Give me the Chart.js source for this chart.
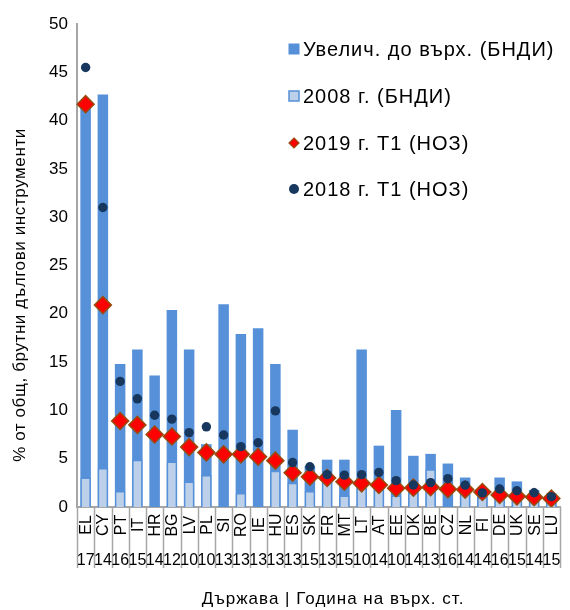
<!DOCTYPE html>
<html>
<head>
<meta charset="utf-8">
<script src="https://cdn.jsdelivr.net/npm/chart.js@4.4.1/dist/chart.umd.min.js"></script>
<style>
  html, body { margin: 0; padding: 0; background: #ffffff; }
  #wrap { width: 570px; height: 610px; position: relative; }
</style>
</head>
<body>
<div id="wrap"><canvas id="debtChart"></canvas></div>
<script>
//#region data
// country codes on the x axis
const countries = ["EL", "CY", "PT", "IT", "HR", "BG", "LV", "PL", "SI", "RO", "IE", "HU", "ES", "SK",
  "FR", "MT", "LT", "AT", "EE", "DK", "BE", "CZ", "NL", "FI", "DE", "UK", "SE", "LU"];

// year of the peak (second row of labels)
const peakYears = ["17", "14", "16", "15", "14", "12", "10", "10", "13", "13", "13", "13", "13", "15",
  "13", "15", "10", "14", "10", "14", "13", "16", "14", "14", "16", "15", "14", "15"];

// bar height up to the peak (NPL)
const peakLevel = [41.8, 42.7, 14.8, 16.3, 13.6, 20.4, 16.3, 6.5, 21.0, 17.9, 18.5, 14.8, 8.0, 4.25,
  4.9, 4.9, 16.3, 6.35, 10.05, 5.3, 5.5, 4.5, 3.05, 1.5, 3.05, 2.65, 1.75, 1.4];

// level in 2008 (NPL), null where there is none
const level2008 = [3.05, 4.05, 1.65, 4.9, null, 4.7, 2.65, 3.3, null, 1.45, null, 3.75, 2.5, 1.65,
  3.3, 1.2, 2.0, 1.8, 1.2, 1.5, 3.9, null, 1.6, 1.0, 1.0, 1.2, 1.0, 0.9];

// 2019 Q1 (NPL)
const q1_2019 = [41.7, 20.9, 8.9, 8.5, 7.5, 7.3, 6.2, 5.65, 5.45, 5.45, 5.2, 4.8, 3.55, 3.14,
  3.0, 2.62, 2.45, 2.28, 1.95, 2.0, 2.05, 1.85, 1.8, 1.55, 1.24, 1.1, 1.02, 0.88];

// 2018 Q1 (NPL)
const q1_2018 = [45.5, 31.0, 13.0, 11.2, 9.5, 9.1, 7.7, 8.3, 7.45, 6.25, 6.65, 9.95, 4.6, 4.17,
  3.35, 3.3, 3.35, 3.57, 2.73, 2.28, 2.52, 2.93, 2.26, 1.46, 1.86, 1.68, 1.48, 1.07];

// y axis ticks
const yTicks = [0, 5, 10, 15, 20, 25, 30, 35, 40, 45, 50];

const seriesNames = ["Увелич. до върх. (БНДИ)", "2008 г. (БНДИ)", "2019 г. Т1 (НОЗ)", "2018 г. Т1 (НОЗ)"];
const yTitle = "% от общ, брутни дългови инструменти";
const xTitle = "Държава | Година на върх. ст.";
//#endregion

//#region colours
const darkBlue = "#5590d8";
const lightBlue = "#bdd0ea";
const diamondRed = "#ff0000";
const diamondEdge = "#9a4a0c";
const navy = "#17375e";
const axisGrey = "#a6a6a6";
const FONT = "'Liberation Sans', Arial, sans-serif";
//#endregion

// draws the legend, the axis titles, the separators and the two-row x labels
const extrasPlugin = {
  id: "extras",
  afterDraw(chart) {
    const ctx = chart.ctx;
    const xs = chart.scales.x;
    const area = chart.chartArea;
    const step = (area.right - area.left) / countries.length;

    ctx.save();

    // vertical separators under the axis
    ctx.strokeStyle = axisGrey;
    ctx.lineWidth = 1.5;
    for (let i = 0; i <= countries.length; i++) {
      const x = Math.round(area.left + i * step) + 0.5;
      ctx.beginPath();
      ctx.moveTo(x, area.bottom);
      ctx.lineTo(x, area.bottom + 61);
      ctx.stroke();
    }

    // country codes (rotated) and years
    ctx.fillStyle = "#000";
    ctx.font = "16px " + FONT;
    ctx.textBaseline = "middle";
    countries.forEach((c, i) => {
      const x = xs.getPixelForValue(i);
      ctx.save();
      ctx.translate(x + 1, area.bottom + 18);
      ctx.rotate(-Math.PI / 2);
      ctx.textAlign = "center";
      ctx.fillText(c, 0, 0);
      ctx.restore();
      ctx.textAlign = "center";
      ctx.fillText(peakYears[i], x, area.bottom + 54);
    });

    // axis titles, a little spaced out like the original
    ctx.letterSpacing = "1px";
    ctx.textAlign = "center";
    ctx.font = "17px " + FONT;
    ctx.fillText(xTitle, 333, 599);

    ctx.save();
    ctx.translate(20, 295);
    ctx.rotate(-Math.PI / 2);
    ctx.letterSpacing = "0.6px";
    ctx.fillText(yTitle, 0, 0);
    ctx.restore();

    // legend inside the plot
    const lx = 294;
    const ly = [49, 96, 143, 189];
    ctx.letterSpacing = "1px";
    ctx.font = "20px " + FONT;
    ctx.textAlign = "left";
    ctx.textBaseline = "middle";

    ctx.fillStyle = darkBlue;
    ctx.fillRect(lx - 5.5, ly[0] - 5.5, 11, 11);

    ctx.fillStyle = lightBlue;
    ctx.strokeStyle = darkBlue;
    ctx.lineWidth = 1.5;
    ctx.fillRect(lx - 5, ly[1] - 5, 10, 10);
    ctx.strokeRect(lx - 5, ly[1] - 5, 10, 10);

    ctx.beginPath();
    ctx.moveTo(lx, ly[2] - 5);
    ctx.lineTo(lx + 5, ly[2]);
    ctx.lineTo(lx, ly[2] + 5);
    ctx.lineTo(lx - 5, ly[2]);
    ctx.closePath();
    ctx.fillStyle = diamondRed;
    ctx.fill();
    ctx.strokeStyle = diamondEdge;
    ctx.lineWidth = 1.2;
    ctx.stroke();

    ctx.beginPath();
    ctx.arc(lx, ly[3], 5, 0, Math.PI * 2);
    ctx.fillStyle = navy;
    ctx.fill();

    ctx.fillStyle = "#000";
    seriesNames.forEach((name, i) => ctx.fillText(name, lx + 9, ly[i] + 1));

    ctx.restore();
  },
};

const ctx = document.getElementById("debtChart").getContext("2d");

new Chart(ctx, {
  type: "bar",
  data: {
    labels: countries,
    datasets: [
      {
        type: "line",
        label: seriesNames[3],
        data: q1_2018,
        showLine: false,
        pointStyle: "circle",
        pointRadius: 4.7,
        pointBackgroundColor: navy,
        pointBorderColor: navy,
        pointBorderWidth: 0,
        order: 0,
      },
      {
        type: "line",
        label: seriesNames[2],
        data: q1_2019,
        showLine: false,
        pointStyle: "rectRot",
        pointRadius: 8.5,
        pointBackgroundColor: diamondRed,
        pointBorderColor: diamondEdge,
        pointBorderWidth: 1.5,
        order: 1,
      },
      {
        label: seriesNames[1],
        data: level2008,
        backgroundColor: lightBlue,
        borderColor: darkBlue,
        borderWidth: 1.5,
        grouped: false,
        categoryPercentage: 1,
        barPercentage: 0.61,
        order: 2,
      },
      {
        label: seriesNames[0],
        data: peakLevel,
        backgroundColor: darkBlue,
        borderWidth: 0,
        grouped: false,
        categoryPercentage: 1,
        barPercentage: 0.61,
        order: 3,
      },
    ],
  },
  options: {
    responsive: true,
    maintainAspectRatio: false,
    animation: false,
    layout: { padding: { top: 24, right: 3, left: 0, bottom: 0 } },
    plugins: {
      legend: { display: false },
      tooltip: { enabled: false },
    },
    scales: {
      x: {
        offset: true,
        grid: { display: false },
        border: { display: true, color: axisGrey, width: 2 },
        ticks: { display: false },
        afterFit: (scale) => { scale.height = 103; },
      },
      y: {
        min: 0,
        max: 50,
        afterBuildTicks: (scale) => { scale.ticks = yTicks.map((v) => ({ value: v })); },
        grid: { display: false, drawTicks: false },
        border: { display: true, color: axisGrey, width: 2 },
        ticks: {
          color: "#000",
          padding: 9,
          font: { family: FONT, size: 17 },
        },
        afterFit: (scale) => { scale.width = 77; },
      },
    },
  },
  plugins: [extrasPlugin],
});
</script>
</body>
</html>
